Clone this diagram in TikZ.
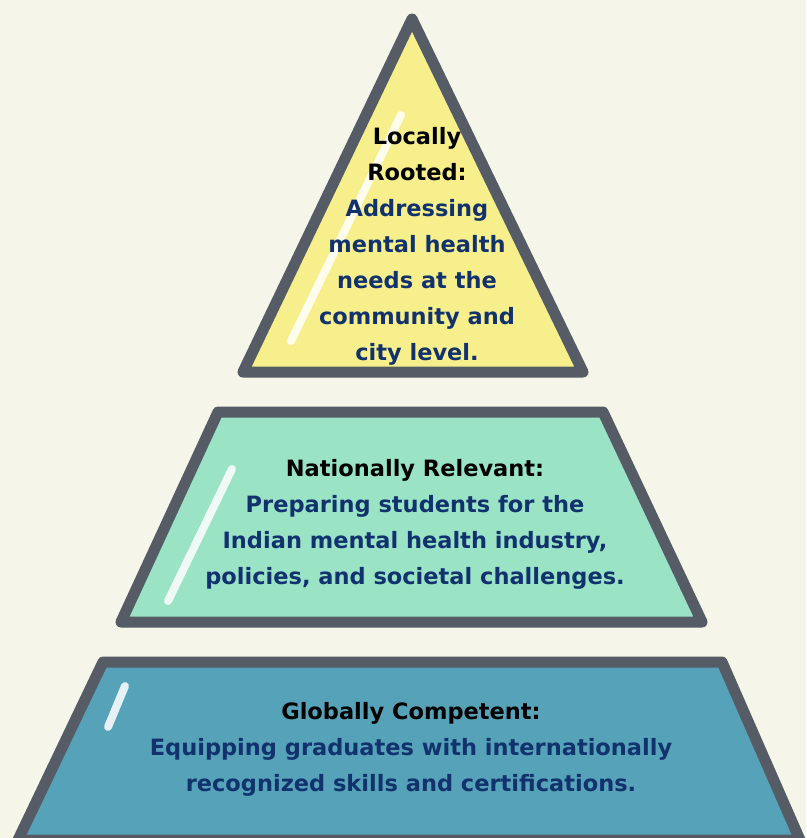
\documentclass[tikz,border=0pt]{standalone}
\usepackage{fontspec}
\setmainfont{DejaVu Sans}
\usepackage{tikz}

\definecolor{bgcream}{HTML}{F5F5E9}
\definecolor{edgegray}{HTML}{555C66}
\definecolor{topyellow}{HTML}{F7EF8B}
\definecolor{midmint}{HTML}{9AE3C5}
\definecolor{baseteal}{HTML}{55A2B9}
\definecolor{bodynavy}{RGB}{18,50,110}

\tikzset{
  tier/.style={draw=edgegray, line width=11pt, line join=round},
  shine/.style={white, opacity=0.85, line width=8pt, line cap=round},
  tiertext/.style={align=center, inner sep=0pt, text=bodynavy,
    font=\bfseries\fontsize{22.5}{36}\selectfont}
}

\begin{document}
\begin{tikzpicture}[x=1pt, y=-1pt]
        % Canvas
        \fill[bgcream] (0,0) rectangle (806,838);
        \useasboundingbox (0,0) rectangle (806,838);
        % Bottom tier
        \filldraw[tier, fill=baseteal] (103,662) -- (722,662) -- (800,840) -- (18,840) -- cycle;
        \draw[shine] (125,686) -- (108,727);
        % Middle tier
        \filldraw[tier, fill=midmint] (218,412) -- (603,412) -- (702,622) -- (121,622) -- cycle;
        \draw[shine] (232,469) -- (168,601);
        % Top tier
        \filldraw[tier, fill=topyellow] (412,19) -- (583,372) -- (243,372) -- cycle;
        \draw[shine] (401,115) -- (291,341);
        % Labels
        \node[tiertext] (local) at (417,246)
          {\textcolor{black}{Locally}\\\textcolor{black}{Rooted:}\\Addressing\\mental health\\needs at the\\community and\\city level.};
        \node[tiertext] (national) at (415,524)
          {\textcolor{black}{Nationally Relevant:}\\Preparing students for the\\Indian mental health industry,\\policies, and societal challenges.};
        \node[tiertext] (global) at (411,749)
          {\textcolor{black}{Globally Competent:}\\Equipping graduates with internationally\\recognized skills and certifications.};
    \end{tikzpicture}
\end{document}
